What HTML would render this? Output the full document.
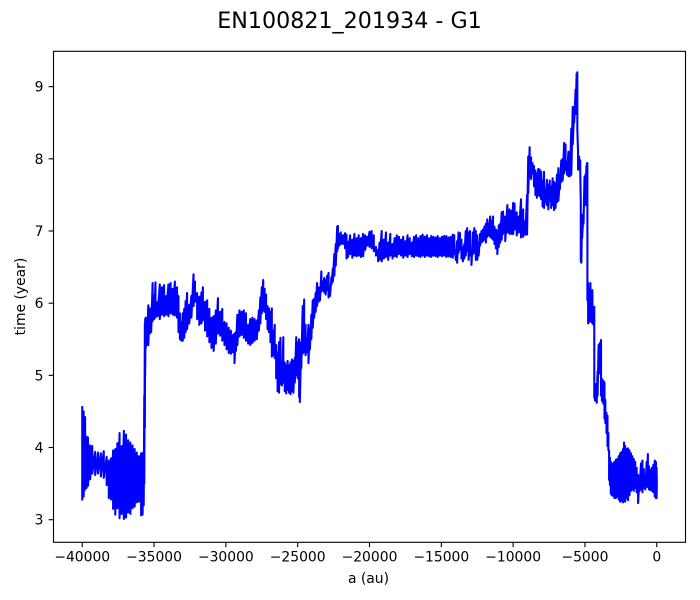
<!DOCTYPE html>
<html lang="en">
<head>
<meta charset="utf-8">
<title>EN100821_201934 - G1</title>
<style>
html,body{margin:0;padding:0;background:#fff;width:700px;height:600px;overflow:hidden}
svg{display:block}
text{font-family:"DejaVu Sans","Liberation Sans",sans-serif;fill:#000}
</style>
</head>
<body>
<svg id="chart" width="700" height="600" viewBox="0 0 700 600" xmlns="http://www.w3.org/2000/svg">
<text x="349.5" y="28" font-size="22.2" text-anchor="middle">EN100821_201934 - G1</text>
<rect x="53.5" y="51.3" width="632" height="491" fill="#fff"/>
<path id="series" fill="none" stroke="#0000ff" stroke-width="2.08" stroke-linejoin="round" stroke-linecap="square"/>
<g id="x-axis"></g>
<g id="y-axis"></g>
<rect x="53.5" y="51.3" width="632" height="491" fill="none" stroke="#000" stroke-width="1.1"/>
<text x="368.5" y="583" font-size="13.9" text-anchor="middle">a (au)</text>
<text x="0" y="0" font-size="13.9" text-anchor="middle" transform="translate(25 296.5) rotate(-90)">time (year)</text>
</svg>
<script>
const xTickValues = [-40000,-35000,-30000,-25000,-20000,-15000,-10000,-5000,0];
const yTickValues = [3,4,5,6,7,8,9];
const aValues = [
-40000,-39900,-39800,-39700,-39600,-39450,-39300,-39100,-38900,-38700,
-38500,-38300,-38150,-38000,-37850,-37700,-37550,-37400,-37250,-37100,
-36950,-36800,-36650,-36500,-36350,-36200,-36050,-35900,-35800,-35720,
-35680,-35640,-35620,-35580,-35500,-35400,-35300,-35200,-35100,-35000,
-34900,-34750,-34600,-34450,-34300,-34150,-34000,-33850,-33700,-33550,
-33400,-33300,-33200,-33100,-33000,-32900,-32800,-32700,-32550,-32400,
-32250,-32150,-32000,-31850,-31700,-31600,-31450,-31300,-31150,-31000,
-30850,-30700,-30550,-30400,-30250,-30100,-29950,-29800,-29650,-29500,
-29400,-29300,-29200,-29050,-28900,-28750,-28600,-28450,-28300,-28150,
-28000,-27850,-27700,-27600,-27500,-27400,-27300,-27200,-27100,-27000,
-26900,-26800,-26700,-26600,-26500,-26400,-26300,-26200,-26100,-26000,
-25900,-25800,-25700,-25600,-25500,-25400,-25300,-25200,-25100,-25000,
-24900,-24850,-24750,-24650,-24550,-24450,-24350,-24250,-24150,-24050,
-23950,-23850,-23750,-23650,-23550,-23450,-23350,-23250,-23150,-23050,
-22950,-22850,-22750,-22650,-22550,-22450,-22350,-22250,-22200,-22100,
-22000,-21850,-21700,-21600,-21500,-21350,-21200,-21050,-20900,-20750,
-20600,-20450,-20300,-20150,-20000,-19850,-19700,-19550,-19400,-19300,
-19150,-19000,-18850,-18700,-18550,-18400,-18250,-18100,-17950,-17800,
-17650,-17500,-17350,-17200,-17050,-16900,-16750,-16600,-16450,-16300,
-16150,-16000,-15850,-15700,-15550,-15400,-15250,-15100,-14950,-14800,
-14650,-14500,-14350,-14200,-14100,-14000,-13900,-13800,-13700,-13600,
-13500,-13400,-13300,-13200,-13100,-13000,-12900,-12800,-12700,-12600,
-12500,-12400,-12300,-12200,-12100,-12000,-11900,-11800,-11700,-11600,
-11500,-11400,-11300,-11200,-11100,-11000,-10900,-10800,-10700,-10550,
-10400,-10250,-10100,-10000,-9900,-9750,-9600,-9450,-9300,-9150,
-9030,-8950,-8850,-8750,-8650,-8550,-8450,-8350,-8250,-8150,
-8050,-7950,-7850,-7750,-7650,-7550,-7450,-7350,-7250,-7150,
-7050,-6950,-6850,-6750,-6650,-6550,-6450,-6350,-6250,-6150,
-6050,-5950,-5850,-5750,-5650,-5580,-5530,-5480,-5400,-5330,
-5290,-5250,-5200,-5100,-5030,-4970,-4900,-4860,-4830,-4780,
-4700,-4620,-4550,-4480,-4400,-4350,-4300,-4250,-4180,-4120,
-4050,-3980,-3920,-3880,-3820,-3760,-3700,-3640,-3580,-3500,
-3430,-3370,-3320,-3260,-3200,-3130,-3050,-2950,-2850,-2750,
-2650,-2550,-2450,-2350,-2280,-2200,-2100,-2000,-1900,-1800,
-1700,-1600,-1500,-1400,-1300,-1200,-1100,-1000,-900,-800,
-700,-620,-540,-440,-340,-240,-140,-60,-10,0
];
const timeHigh = [
4.56,4.50,4.42,4.15,4.14,4.03,4.02,3.94,3.93,3.92,
3.95,3.87,3.82,3.85,3.96,3.98,4.06,4.20,4.02,4.23,
4.18,4.10,4.07,4.03,3.98,3.93,3.88,3.92,3.92,3.94,
4.72,5.72,5.78,5.80,5.78,5.97,5.93,5.88,6.28,6.10,
6.29,6.02,6.26,6.22,6.25,6.10,6.26,6.28,6.20,6.30,
6.22,6.10,5.86,5.74,5.86,5.92,6.03,6.14,5.98,6.10,
6.40,6.30,6.14,6.09,6.15,6.22,6.02,6.04,5.92,5.80,
5.82,5.90,6.07,5.88,5.92,5.74,5.72,5.66,5.62,5.56,
5.58,5.60,5.84,5.90,5.88,5.90,5.86,5.70,5.78,5.80,
5.78,5.76,5.90,6.08,6.22,6.32,6.20,6.12,5.96,5.93,
5.88,5.93,5.62,5.70,5.42,5.32,5.46,5.52,5.18,5.53,
5.18,5.14,5.20,5.14,5.18,5.22,5.20,5.24,5.53,5.46,
5.50,5.30,5.46,5.96,6.05,5.70,5.52,5.70,5.66,5.84,
6.04,6.06,6.14,6.28,6.22,6.20,6.44,6.30,6.35,6.32,
6.38,6.42,6.24,6.36,6.48,6.68,6.82,7.06,7.07,6.96,
6.98,6.94,6.97,6.95,6.85,6.94,6.88,6.96,6.90,6.94,
6.90,6.96,6.94,6.92,6.99,7.00,6.94,6.78,6.74,6.84,
7.00,6.88,6.98,6.84,6.96,6.82,6.90,6.94,6.92,6.88,
6.92,6.86,6.94,6.90,6.84,6.92,6.94,6.90,6.93,6.95,
6.92,6.94,6.90,6.93,6.92,6.91,6.93,6.90,6.92,6.93,
6.93,6.91,6.92,6.95,6.94,6.72,6.86,6.98,6.97,6.88,
6.78,6.82,7.00,7.04,6.98,7.00,6.74,6.98,7.04,7.00,
6.94,6.84,6.96,7.00,7.02,7.06,7.10,7.16,7.10,7.20,
7.14,7.20,7.06,7.02,7.00,7.08,7.10,7.26,7.27,7.20,
7.36,7.30,7.28,7.39,7.38,7.26,7.20,7.44,7.30,7.14,
7.50,8.03,8.16,8.02,7.94,7.90,7.84,7.80,7.86,7.85,
7.82,7.70,7.82,7.58,7.71,7.64,7.70,7.62,7.73,7.68,
7.66,7.78,7.87,7.70,7.98,8.00,8.22,8.20,7.96,8.10,
8.02,8.42,8.72,8.70,8.96,9.18,9.20,8.10,8.03,7.98,
7.40,6.72,7.22,7.25,7.75,7.78,7.90,7.94,7.94,6.28,
6.05,6.28,6.00,6.18,5.95,5.95,4.85,4.88,4.80,5.05,
5.42,5.44,5.46,5.49,4.95,4.93,4.92,4.90,4.66,4.48,
4.44,4.20,3.96,3.86,3.80,3.74,3.78,3.80,3.83,3.84,
3.88,3.92,3.94,3.98,4.07,4.02,3.98,3.99,3.96,3.92,
3.88,3.84,3.80,3.72,3.62,3.60,3.78,3.82,3.70,3.62,
3.80,3.91,3.74,3.69,3.72,3.76,3.82,3.80,3.72,3.60
];
const timeLow = [
3.28,3.32,3.42,3.44,3.47,3.56,3.64,3.62,3.64,3.60,
3.58,3.48,3.30,3.28,3.15,3.07,3.16,3.02,3.08,3.01,
3.03,3.10,3.08,3.16,3.18,3.24,3.25,3.06,3.07,3.20,
3.50,4.28,5.00,5.38,5.42,5.42,5.58,5.60,5.75,5.78,
5.80,5.82,5.78,5.84,5.82,5.84,5.82,5.86,5.84,5.83,
5.80,5.60,5.50,5.48,5.48,5.52,5.60,5.64,5.72,5.80,
5.96,6.02,5.78,5.70,5.72,5.76,5.62,5.54,5.46,5.38,
5.34,5.44,5.58,5.55,5.48,5.42,5.36,5.31,5.30,5.32,
5.17,5.34,5.42,5.54,5.56,5.52,5.48,5.44,5.42,5.45,
5.48,5.50,5.62,5.72,5.86,5.90,5.88,5.78,5.64,5.60,
5.46,5.26,5.28,5.24,4.96,4.78,4.76,4.88,4.86,4.90,
4.78,4.75,4.80,4.76,4.74,4.78,4.76,4.90,5.00,4.96,
4.70,4.63,5.10,5.30,5.32,5.28,5.32,5.17,5.36,5.50,
5.66,5.80,5.88,5.96,6.02,6.04,6.16,6.18,6.15,6.12,
6.18,6.08,6.10,6.26,6.30,6.38,6.52,6.72,6.76,6.80,
6.82,6.82,6.76,6.62,6.64,6.68,6.63,6.66,6.65,6.66,
6.64,6.65,6.74,6.80,6.78,6.76,6.72,6.66,6.58,6.60,
6.58,6.62,6.64,6.60,6.66,6.62,6.65,6.64,6.68,6.66,
6.63,6.66,6.64,6.68,6.65,6.64,6.66,6.65,6.64,6.66,
6.64,6.66,6.65,6.64,6.66,6.65,6.64,6.66,6.65,6.66,
6.64,6.65,6.64,6.63,6.68,6.60,6.56,6.70,6.74,6.62,
6.58,6.62,6.66,6.72,6.60,6.66,6.53,6.68,6.70,6.60,
6.60,6.66,6.80,6.84,6.86,6.88,6.84,6.92,6.94,6.92,
6.90,6.88,6.82,6.76,6.68,6.78,6.84,6.88,6.96,6.86,
6.98,6.96,6.96,6.96,7.02,6.94,6.98,6.91,6.92,6.95,
6.95,7.52,7.75,7.72,7.80,7.62,7.50,7.46,7.50,7.48,
7.44,7.34,7.32,7.40,7.36,7.30,7.42,7.32,7.36,7.29,
7.32,7.40,7.42,7.58,7.68,7.70,7.80,7.84,7.78,7.76,
7.76,7.78,8.20,8.50,8.62,8.70,8.40,7.85,7.86,7.84,
6.58,6.56,6.90,7.10,7.36,7.36,7.40,7.50,6.04,5.72,
5.74,5.78,5.74,5.72,5.70,4.69,4.65,4.66,4.62,4.72,
5.02,5.03,5.05,4.72,4.65,4.63,4.60,4.40,4.34,4.20,
4.02,3.96,3.55,3.48,3.36,3.34,3.33,3.30,3.30,3.32,
3.28,3.25,3.26,3.24,3.26,3.25,3.30,3.27,3.34,3.40,
3.42,3.40,3.44,3.38,3.23,3.40,3.42,3.38,3.44,3.42,
3.46,3.45,3.42,3.41,3.40,3.38,3.32,3.30,3.30,3.40
];

const SVG_NS = 'http://www.w3.org/2000/svg';
const plot = { left: 53.5, right: 685.5, top: 51.3, bottom: 542.3 };
const xDomain = [-42000, 2000];
const yDomain = [2.687, 9.49];
function xScale(a) {
  return plot.left + (a - xDomain[0]) / (xDomain[1] - xDomain[0]) * (plot.right - plot.left);
}
function yScale(t) {
  return plot.bottom - (t - yDomain[0]) / (yDomain[1] - yDomain[0]) * (plot.bottom - plot.top);
}
function formatTick(v) {
  return v < 0 ? '\u2212' + Math.abs(v) : String(v);
}

let d = '';
for (let i = 0; i < aValues.length; i++) {
  const x = xScale(aValues[i]).toFixed(2);
  d += (i === 0 ? 'M' : 'L') + x + ' ' + yScale(timeHigh[i]).toFixed(2);
  d += 'L' + x + ' ' + yScale(timeLow[i]).toFixed(2);
}
for (let i = aValues.length - 1; i > 0; i--) {
  d += 'L' + xScale(aValues[i]).toFixed(2) + ' ' + yScale(timeHigh[i]).toFixed(2);
  d += 'L' + xScale(aValues[i - 1]).toFixed(2) + ' ' + yScale(timeLow[i - 1]).toFixed(2);
}
document.getElementById('series').setAttribute('d', d);

const xAxis = document.getElementById('x-axis');
xTickValues.forEach(function (v) {
  const x = xScale(v);
  const tick = document.createElementNS(SVG_NS, 'line');
  
  
  tick.setAttribute('x1', x);
  tick.setAttribute('x2', x);
  tick.setAttribute('y1', plot.bottom);
  tick.setAttribute('y2', plot.bottom + 4.9);
  tick.setAttribute('stroke', '#000');
  tick.setAttribute('stroke-width', '1.1');
  xAxis.appendChild(tick);
  const label = document.createElementNS(SVG_NS, 'text');
  
  
  label.setAttribute('x', x);
  label.setAttribute('y', plot.bottom + 19);
  label.setAttribute('font-size', '13.9');
  label.setAttribute('text-anchor', 'middle');
  label.textContent = formatTick(v);
  xAxis.appendChild(label);
});

const yAxis = document.getElementById('y-axis');
yTickValues.forEach(function (v) {
  const y = yScale(v);
  const tick = document.createElementNS(SVG_NS, 'line');
  
  
  tick.setAttribute('x1', plot.left - 4.9);
  tick.setAttribute('x2', plot.left);
  tick.setAttribute('y1', y);
  tick.setAttribute('y2', y);
  tick.setAttribute('stroke', '#000');
  tick.setAttribute('stroke-width', '1.1');
  yAxis.appendChild(tick);
  const label = document.createElementNS(SVG_NS, 'text');
  
  
  label.setAttribute('x', plot.left - 10);
  label.setAttribute('y', y + 5);
  label.setAttribute('font-size', '13.9');
  label.setAttribute('text-anchor', 'end');
  label.textContent = formatTick(v);
  yAxis.appendChild(label);
});
</script>
</body>
</html>
